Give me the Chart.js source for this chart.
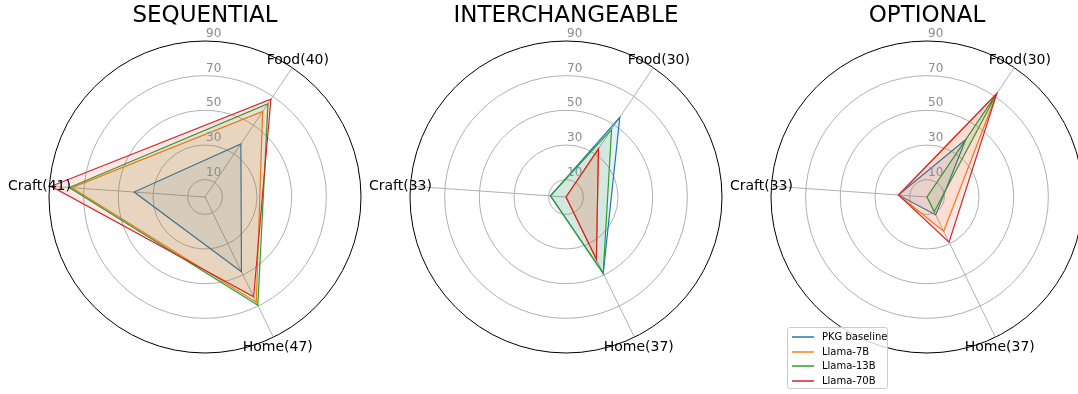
<!DOCTYPE html>
<html>
<head>
<meta charset="utf-8">
<script src="https://cdn.jsdelivr.net/npm/chart.js@4/dist/chart.umd.min.js"></script>
<style>
  html, body { margin: 0; padding: 0; background: #ffffff; }
  #wrap { position: relative; width: 1078px; height: 394px; overflow: hidden; }
  #wrap canvas { position: absolute; left: 0; top: 0; }
  #legend {
    position: absolute; left: 787px; top: 327px; width: 101px; height: 62px;
    box-sizing: border-box; border: 1px solid #cccccc; border-radius: 3px;
    background: rgba(255, 255, 255, 0.8); z-index: 10;
    font-family: 'DejaVu Sans', sans-serif; font-size: 10px; color: #000;
  }
  #legend .item { position: absolute; left: 0; height: 14px; width: 100%; }
  #legend .swatch { position: absolute; left: 4px; top: 6px; width: 22px; height: 2px; opacity: 0.75; }
  #legend .name { position: absolute; left: 34px; top: 0; line-height: 14px; white-space: nowrap; }
</style>
</head>
<body>
<div id="wrap">
  <canvas id="c1" width="1090" height="394"></canvas>
  <canvas id="c2" width="1090" height="394"></canvas>
  <canvas id="c3" width="1090" height="394"></canvas>
  <div id="legend"></div>
</div>
<script>
// Series shown in every panel
const seriesNames = ['PKG baseline', 'Llama-7B', 'Llama-13B', 'Llama-70B'];
const seriesColors = ['#1f77b4', '#ff7f0e', '#2ca02c', '#d62728'];

// Radial tick labels (0 is the centre and carries no label)
const tickValues = [0, 10, 30, 50, 70, 90];
const tickLabels = ['', '10', '30', '50', '70', '90'];

// Panel titles
const panelTitles = ['SEQUENTIAL', 'INTERCHANGEABLE', 'OPTIONAL'];

// Axis categories, listed clockwise from the upper-right spoke
const seqCategories = ['Food(40)', 'Home(47)', 'Craft(41)'];
const intCategories = ['Food(30)', 'Home(37)', 'Craft(33)'];
const optCategories = ['Food(30)', 'Home(37)', 'Craft(33)'];

// SEQUENTIAL values (Food, Home, Craft)
const seqPkg = [37, 48, 41];
const seq7b  = [59.5, 67.5, 77];
const seq13b = [65, 69.5, 78.5];
const seq70b = [68, 64, 89];

// INTERCHANGEABLE values (Food, Home, Craft)
const intPkg = [55.5, 49, 9];
const int7b  = [33.5, 40, 0];
const int13b = [47, 49, 9];
const int70b = [33.5, 40, 0];

// OPTIONAL values (Food, Home, Craft)
const optPkg = [40, 11.5, 16.5];
const opt7b  = [72, 22, 16.5];
const opt13b = [72, 9.5, 0];
const opt70b = [72, 29, 16.5];

const FONT = "'DejaVu Sans', sans-serif";

function hexToRgba(hex, a) {
  const n = parseInt(hex.slice(1), 16);
  return 'rgba(' + ((n >> 16) & 255) + ',' + ((n >> 8) & 255) + ',' + (n & 255) + ',' + a + ')';
}

// Draws the title, the radial tick labels and the spoke labels
const decorations = {
  id: 'decorations',
  afterDraw(chart, args, opts) {
    const s = chart.scales.r;
    const ctx = chart.ctx;
    ctx.save();
    // title
    ctx.fillStyle = '#000';
    ctx.font = '23px ' + FONT;
    ctx.textAlign = 'center';
    ctx.textBaseline = 'middle';
    ctx.fillText(opts.title, s.xCenter, 16);
    // radial tick labels along the vertical
    ctx.fillStyle = '#8c8c8c';
    ctx.font = '12px ' + FONT;
    ctx.textAlign = 'left';
    ctx.textBaseline = 'bottom';
    tickValues.forEach((v, i) => {
      if (!tickLabels[i]) return;
      const d = s.getDistanceFromCenterForValue(v);
      ctx.fillText(tickLabels[i], s.xCenter + 1, s.yCenter - d - 1);
    });
    // spoke labels centred just outside the outer ring
    ctx.fillStyle = '#000';
    ctx.font = '14px ' + FONT;
    ctx.textAlign = 'center';
    ctx.textBaseline = 'middle';
    chart.data.labels.forEach((lab, i) => {
      const p = s.getPointPosition(i, s.drawingArea + 10);
      ctx.fillText(lab, p.x, p.y + 1);
    });
    ctx.restore();
  }
};

function makePanel(id, left, title, categories, series) {
  const datasets = series.map((vals, i) => ({
    label: seriesNames[i],
    data: vals,
    borderColor: seriesColors[i],
    backgroundColor: hexToRgba(seriesColors[i], 0.1),
    borderWidth: 1.2,
    pointRadius: 0,
    pointHoverRadius: 0,
    fill: true,
    order: series.length - i
  }));
  new Chart(document.getElementById(id), {
    type: 'radar',
    data: { labels: categories, datasets },
    plugins: [decorations],
    options: {
      responsive: false,
      animation: false,
      events: [],
      layout: { padding: { left: left, right: 1090 - left - 312, top: 41, bottom: 394 - 41 - 312 } },
      elements: { line: { tension: 0 } },
      plugins: {
        legend: { display: false },
        tooltip: { enabled: false },
        decorations: { title }
      },
      scales: {
        r: {
          min: 0,
          max: 90,
          startAngle: 34,
          afterBuildTicks: (scale) => { scale.ticks = tickValues.map(v => ({ value: v })); },
          ticks: { display: false },
          pointLabels: { display: false },
          grid: {
            circular: true,
            color: (c) => (c.tick && c.tick.value === 90) ? '#000000' : '#b0b0b0',
            lineWidth: 1
          },
          angleLines: { color: '#b0b0b0', lineWidth: 1 }
        }
      }
    }
  });
}

makePanel('c1', 49, panelTitles[0], seqCategories, [seqPkg, seq7b, seq13b, seq70b]);
makePanel('c2', 410, panelTitles[1], intCategories, [intPkg, int7b, int13b, int70b]);
makePanel('c3', 771, panelTitles[2], optCategories, [optPkg, opt7b, opt13b, opt70b]);

// Legend
const legend = document.getElementById('legend');
seriesNames.forEach((name, i) => {
  const item = document.createElement('div');
  item.className = 'item';
  item.style.top = (2 + i * 14.6) + 'px';
  const sw = document.createElement('div');
  sw.className = 'swatch';
  sw.style.background = seriesColors[i];
  const tx = document.createElement('div');
  tx.className = 'name';
  tx.textContent = name;
  item.appendChild(sw);
  item.appendChild(tx);
  legend.appendChild(item);
});
</script>
</body>
</html>
